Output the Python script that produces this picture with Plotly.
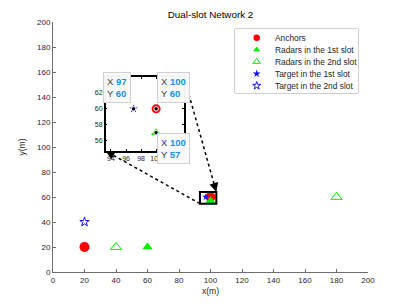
import math
import plotly.graph_objects as go

# ---------------- data ----------------
anchor_x = [20, 100]
anchor_y = [20, 60]
radar1_x = [60, 100]
radar1_y = [20, 57]
radar2_x = [40, 180]
radar2_y = [20, 60]
target1_x = [97]
target1_y = [60]
target2_x = [20]
target2_y = [40]

series_names = ["Anchors", "Radars in the 1st slot", "Radars in the 2nd slot",
                "Target in the 1st slot", "Target in the 2nd slot"]

# data tips shown in the zoomed inset
tip_x = [97, 100, 100]
tip_y = [60, 60, 57]

main_ticks = [0, 20, 40, 60, 80, 100, 120, 140, 160, 180, 200]
inset_xticks = [94, 96, 98, 100]
inset_yticks = [56, 58, 60, 62]

# ---------------- layout geometry ----------------
W, H = 407, 305
ML, MR, MT, MB = 53, 39, 22, 33
PW, PH = W - ML - MR, H - MT - MB

zoom_xr = [93.3, 103.7]
zoom_yr = [54.7, 64.0]
inset_dx = [(105.7 - ML) / PW, (184.0 - ML) / PW]
inset_dy = [(H - MB - 151.0) / PH, (H - MB - 77.0) / PH]

leg_dx = [(235 - ML) / PW, (358 - ML) / PW]
leg_dy = [(H - MB - 93) / PH, (H - MB - 29) / PH]

FONT = "Liberation Sans, Arial, Helvetica, sans-serif"
TXT = "#262626"
RED, GREEN, BLUE = "#ff0000", "#00ee00", "#1010ff"

styles = [
    dict(x=anchor_x, y=anchor_y, symbol="circle", color=RED, size=10, isize=9, lw=0),
    dict(x=radar1_x, y=radar1_y, symbol="triangle-up", color=GREEN, size=9, isize=9, lw=0),
    dict(x=radar2_x, y=radar2_y, symbol="triangle-up-open", color=GREEN, size=9.5, isize=8, lw=1),
    dict(x=target1_x, y=target1_y, symbol="star", color=BLUE, size=5.5, isize=6.5, lw=0),
    dict(x=target2_x, y=target2_y, symbol="star-open", color=BLUE, size=7, isize=6, lw=1),
]

fig = go.Figure()

# main plot + inset
for name, s in zip(series_names, styles):
    mk = dict(symbol=s["symbol"], color=s["color"], size=s["size"])
    if s["lw"]:
        mk["line"] = dict(color=s["color"], width=s["lw"])
    else:
        mk["line"] = dict(width=0)
    fig.add_trace(go.Scatter(x=s["x"], y=s["y"], mode="markers", name=name,
                             marker=mk, showlegend=False, xaxis="x", yaxis="y"))
    mk2 = dict(mk)
    mk2["size"] = s["isize"]
    fig.add_trace(go.Scatter(x=s["x"], y=s["y"], mode="markers", name=name,
                             marker=mk2, showlegend=False, xaxis="x2", yaxis="y2",
                             cliponaxis=True))

# data-tip markers
fig.add_trace(go.Scatter(x=tip_x, y=tip_y, mode="markers", showlegend=False,
                         marker=dict(symbol="circle", size=4.5, color="black",
                                     line=dict(color="white", width=1)),
                         xaxis="x2", yaxis="y2"))

# custom compact legend (keys drawn on their own small axes)
n = len(series_names)
first_c, step = 37.7, 12.0
top_i = (29 - first_c) / step
bot_i = (93 - first_c) / step
key_x = (256.7 - 235) / (358 - 235)
text_x = (273 - 235) / (358 - 235)
for i, (name, s) in enumerate(zip(series_names, styles)):
    mk = dict(symbol=s["symbol"], color=s["color"], size=6.5 if "star" not in s["symbol"] else 6)
    mk["line"] = dict(color=s["color"], width=s["lw"]) if s["lw"] else dict(width=0)
    fig.add_trace(go.Scatter(x=[key_x], y=[i], mode="markers", marker=mk,
                             showlegend=False, xaxis="x3", yaxis="y3", hoverinfo="skip"))

annotations = []
for i, name in enumerate(series_names):
    annotations.append(dict(x=text_x, y=i, xref="x3", yref="y3", text=name,
                            showarrow=False, xanchor="left", yanchor="middle",
                            font=dict(size=8.4, color=TXT, family=FONT)))

# data tip boxes
tip_pos = [
    dict(xanchor="right", yanchor="bottom", xshift=-2.5, yshift=5.5),
    dict(xanchor="left", yanchor="bottom", xshift=1, yshift=5.5),
    dict(xanchor="left", yanchor="top", xshift=1, yshift=0),
]
VAL = "#1a8fe6"
for tx, ty, p in zip(tip_x, tip_y, tip_pos):
    txt = (f"X <b><span style='color:{VAL}'>{tx}</span></b><br>"
           f"Y <b><span style='color:{VAL}'>{ty}</span></b>")
    annotations.append(dict(x=tx, y=ty, xref="x2", yref="y2", text=txt, showarrow=False,
                            align="left", bgcolor="rgba(250,250,250,0.97)",
                            bordercolor="#cfcfcf", borderwidth=1, borderpad=3,
                            font=dict(size=9.5, color="#404040", family=FONT), **p))

# connector lines from the zoom rectangle to the inset
def to_paper(x, y):
    return x / 200.0, y / 200.0

rect_bl = to_paper(zoom_xr[0], zoom_yr[0])
rect_tr = to_paper(zoom_xr[1], zoom_yr[1])
ins_bl = (inset_dx[0], inset_dy[0])
ins_tr = (inset_dx[1], inset_dy[1])

shapes = [
    dict(type="rect", xref="x", yref="y", x0=zoom_xr[0], x1=zoom_xr[1],
         y0=zoom_yr[0], y1=zoom_yr[1], line=dict(color="black", width=2), layer="above"),
    dict(type="rect", xref="paper", yref="paper", x0=leg_dx[0], x1=leg_dx[1],
         y0=leg_dy[0], y1=leg_dy[1], line=dict(color="#a0a0a0", width=1),
         fillcolor="rgba(255,255,255,0)", layer="below"),
]
for (a, b) in [(rect_bl, ins_bl), (ins_tr, rect_tr)]:
    shapes.append(dict(type="line", xref="paper", yref="paper", x0=a[0], y0=a[1],
                       x1=b[0], y1=b[1], line=dict(color="black", width=1.5, dash="dot"),
                       layer="above"))
    # arrowhead at b, pointing from a
    dxp = (a[0] - b[0]) * PW
    dyp = -(a[1] - b[1]) * PH
    L = math.hypot(dxp, dyp)
    annotations.append(dict(x=b[0], y=b[1], xref="paper", yref="paper",
                            ax=dxp / L * 7, ay=dyp / L * 7, axref="pixel", ayref="pixel",
                            text="", showarrow=True, arrowhead=2, arrowsize=1.5,
                            arrowwidth=1.2, arrowcolor="black", standoff=0))

axis_common = dict(showgrid=False, zeroline=False, showline=True, linecolor="#6e6e6e",
                   linewidth=1, ticks="inside", ticklen=3, tickcolor="#6e6e6e",
                   automargin=False,
                   tickfont=dict(size=8, color=TXT, family=FONT))

inset_common = dict(showgrid=False, zeroline=False, showline=True, mirror="ticks",
                    linecolor="black", linewidth=1.5, ticks="inside", ticklen=2,
                    automargin=False,
                    tickcolor="black", tickfont=dict(size=7, color=TXT, family=FONT))

fig.update_layout(
    width=W, height=H,
    margin=dict(l=ML, r=MR, t=MT, b=MB, pad=0, autoexpand=False),
    paper_bgcolor="white", plot_bgcolor="white",
    font=dict(family=FONT, color=TXT),
    showlegend=False,
    title=dict(text="Dual-slot Network 2", x=0.5, xref="paper", y=1 - 14.5 / H,
               yanchor="middle", xanchor="center", automargin=False,
               font=dict(size=9.8, color="black", family=FONT)),
    xaxis=dict(range=[0, 200], tickvals=main_ticks, domain=[0, 1],
               title=dict(text="x(m)", font=dict(size=8.6, color=TXT), standoff=4),
               **axis_common),
    yaxis=dict(range=[0, 200], tickvals=main_ticks, domain=[0, 1],
               title=dict(text="y(m)", font=dict(size=8.6, color=TXT), standoff=10),
               **axis_common),
    xaxis2=dict(range=zoom_xr, domain=inset_dx, anchor="y2", tickvals=inset_xticks,
                **inset_common),
    yaxis2=dict(range=zoom_yr, domain=inset_dy, anchor="x2", tickvals=inset_yticks,
                **inset_common),
    xaxis3=dict(range=[0, 1], domain=leg_dx, anchor="y3", visible=False, fixedrange=True),
    yaxis3=dict(range=[bot_i, top_i], domain=leg_dy, anchor="x3", visible=False,
                fixedrange=True),
    shapes=shapes,
    annotations=annotations,
)

fig.write_html("out.html", config={"displayModeBar": False},
               post_script="document.body.style.margin='0';document.body.style.overflow='hidden';")
